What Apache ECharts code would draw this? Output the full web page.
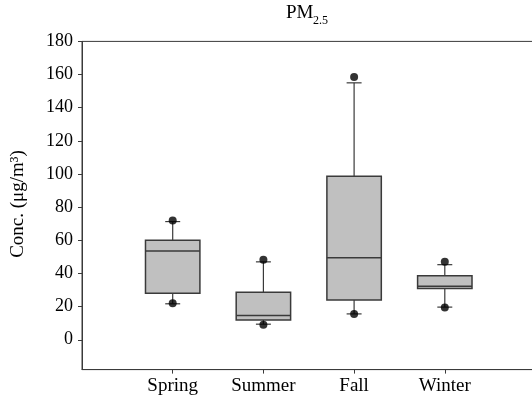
<!DOCTYPE html>
<html>
<head>
<meta charset="utf-8">
<script src="https://cdn.jsdelivr.net/npm/echarts@6/dist/echarts.min.js"></script>
<style>html,body{margin:0;padding:0;background:#fff}#c{width:532px;height:398px}</style>
</head>
<body>
<div id="c"></div>
<script>
const categories = ['Spring', 'Summer', 'Fall', 'Winter'];
const whiskerLow = [21.7, 9.4, 15.6, 19.7];
const q1 = [28, 11.9, 24, 31];
const median = [53.5, 14.7, 49.5, 32.3];
const q3 = [60, 28.6, 98.6, 38.6];
const whiskerHigh = [71.3, 47, 155, 45.3];
const pointLow = [22, 9, 15.5, 19.5];
const pointHigh = [72, 48.3, 158.5, 47];
const yTicks = [0, 20, 40, 60, 80, 100, 120, 140, 160, 180];

const FONT = '"Liberation Serif", "Times New Roman", serif';
const STROKE = '#3a3a3a';

const boxData = categories.map((c, i) => [i + 1, whiskerLow[i], q1[i], median[i], q3[i], whiskerHigh[i]]);
const pointData = [];
categories.forEach((c, i) => { pointData.push([i + 1, pointHigh[i]]); pointData.push([i + 1, pointLow[i]]); });

const chart = echarts.init(document.getElementById('c'));
chart.setOption({
  animation: false,
  backgroundColor: '#fff',
  grid: { left: 82, top: 41.4, width: 453.5, height: 328.2, show: true, borderColor: STROKE, borderWidth: 1, backgroundColor: 'transparent', outerBoundsMode: 'none', containLabel: false },
  graphic: [
    { type: 'text', left: 286, top: 4, style: { text: 'PM', font: '19px ' + FONT, fill: '#000' } },
    { type: 'text', left: 313, top: 15, style: { text: '2.5', font: '12px ' + FONT, fill: '#000' } },
    { type: 'text', x: 18, y: 204, rotation: Math.PI / 2, style: { text: 'Conc. (μg/m³)', font: '19px ' + FONT, fill: '#000', align: 'center', verticalAlign: 'middle' } }
  ],
  xAxis: {
    type: 'value', min: 0, max: 5,
    axisLine: { show: true, onZero: false, lineStyle: { color: STROKE, width: 1 } },
    axisTick: { show: true, customValues: [1, 2, 3, 4], length: 4, lineStyle: { color: STROKE } },
    axisLabel: { customValues: [1, 2, 3, 4], formatter: v => categories[Math.round(v) - 1] || '', fontFamily: FONT, fontSize: 19, color: '#000', margin: 7 },
    splitLine: { show: false }
  },
  yAxis: {
    type: 'value', min: -18, max: 180,
    axisLine: { show: true, onZero: false, lineStyle: { color: STROKE, width: 1 } },
    axisTick: { show: true, customValues: yTicks, length: 4, lineStyle: { color: STROKE } },
    axisLabel: { customValues: yTicks, fontFamily: FONT, fontSize: 18, color: '#000', margin: 9 },
    splitLine: { show: false }
  },
  series: [
    {
      type: 'custom',
      data: boxData,
      renderItem: function (params, api) {
        const x = api.value(0);
        const lo = api.coord([x, api.value(1)]);
        const b1 = api.coord([x, api.value(2)]);
        const md = api.coord([x, api.value(3)]);
        const b3 = api.coord([x, api.value(4)]);
        const hi = api.coord([x, api.value(5)]);
        const bw = api.size([0.6, 0])[0];
        const cw = api.size([0.165, 0])[0];
        const cx = lo[0];
        const ls = { stroke: STROKE, lineWidth: 1.2 };
        return {
          type: 'group',
          children: [
            { type: 'line', shape: { x1: cx, y1: b3[1], x2: cx, y2: hi[1] }, style: ls },
            { type: 'line', shape: { x1: cx - cw / 2, y1: hi[1], x2: cx + cw / 2, y2: hi[1] }, style: ls },
            { type: 'line', shape: { x1: cx, y1: b1[1], x2: cx, y2: lo[1] }, style: ls },
            { type: 'line', shape: { x1: cx - cw / 2, y1: lo[1], x2: cx + cw / 2, y2: lo[1] }, style: ls },
            { type: 'rect', shape: { x: cx - bw / 2, y: b3[1], width: bw, height: b1[1] - b3[1] }, style: { fill: '#c0c0c0', stroke: STROKE, lineWidth: 1.5 } },
            { type: 'line', shape: { x1: cx - bw / 2, y1: md[1], x2: cx + bw / 2, y2: md[1] }, style: { stroke: STROKE, lineWidth: 1.5 } }
          ]
        };
      }
    },
    {
      type: 'scatter',
      data: pointData,
      symbol: 'circle',
      symbolSize: 8,
      itemStyle: { color: '#000' },
      z: 5
    }
  ]
});
</script>
</body>
</html>
